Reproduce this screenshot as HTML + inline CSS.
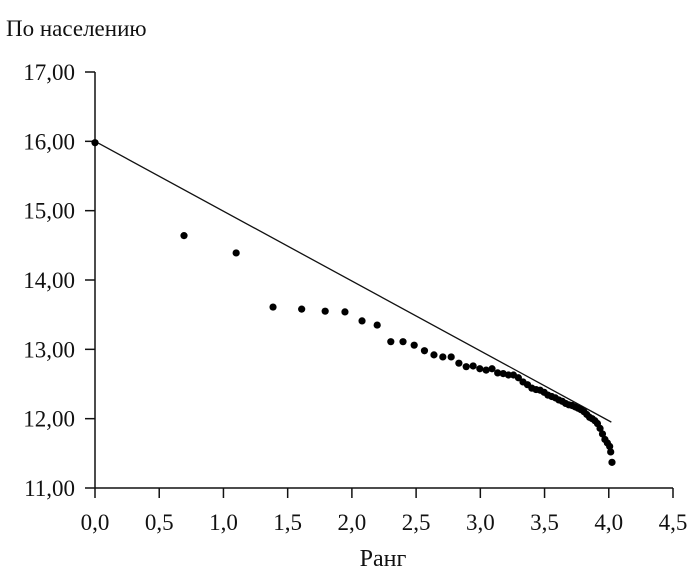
<!DOCTYPE html>
<html><head><meta charset="utf-8"><style>
html,body{margin:0;padding:0;background:#fff;width:700px;height:581px;overflow:hidden}
text{font-family:"Liberation Serif",serif;fill:#111}
</style></head><body>
<svg id="chart" width="700" height="581" viewBox="0 0 700 581">
<text x="6" y="36" font-size="23">По населению</text>
<text x="383" y="566" font-size="24" text-anchor="middle">Ранг</text>
<g id="axes"></g><g id="marks"></g>
</svg>
<script>
const xTicks=["0,0","0,5","1,0","1,5","2,0","2,5","3,0","3,5","4,0","4,5"];
const xTickVals=[0,0.5,1,1.5,2,2.5,3,3.5,4,4.5];
const yTicks=["11,00","12,00","13,00","14,00","15,00","16,00","17,00"];
const yTickVals=[11,12,13,14,15,16,17];
const pointX=[0,0.693,1.099,1.386,1.609,1.792,1.946,2.079,2.197,2.303,2.398,2.485,2.565,2.639,2.708,2.773,2.833,2.890,2.944,2.996,3.045,3.091,3.135,3.178,3.219,3.258,3.296,3.332,3.367,3.401,3.434,3.466,3.497,3.526,3.555,3.584,3.611,3.638,3.664,3.689,3.714,3.738,3.761,3.784,3.807,3.829,3.850,3.871,3.892,3.912,3.932,3.951,3.970,3.989,4.007,4.015,4.025];
const pointY=[15.98,14.64,14.39,13.61,13.58,13.55,13.54,13.41,13.35,13.11,13.11,13.06,12.98,12.92,12.89,12.89,12.80,12.75,12.76,12.72,12.70,12.72,12.66,12.65,12.63,12.63,12.59,12.53,12.49,12.44,12.42,12.41,12.38,12.34,12.32,12.30,12.27,12.25,12.22,12.20,12.19,12.17,12.15,12.13,12.10,12.06,12.02,12.00,11.97,11.93,11.86,11.78,11.70,11.65,11.60,11.52,11.37];
const lineX=[0,4.02];
const lineY=[16.0,11.95];
const X0=95,X1=673,Y0=488,Y1=72;
const sx=v=>X0+(v-0)/(4.5-0)*(X1-X0);
const sy=v=>Y0-(v-11)/(17-11)*(Y0-Y1);
const NS="http://www.w3.org/2000/svg";
const axes=document.getElementById('axes'),marks=document.getElementById('marks');
function mk(tag,at,parent){const e=document.createElementNS(NS,tag);for(const k in at)e.setAttribute(k,at[k]);parent.appendChild(e);return e;}
let a=mk('line',{x1:X0,y1:Y0,x2:X1,y2:Y0,stroke:'#111','stroke-width':1.5},axes);


a=mk('line',{x1:X0,y1:Y0,x2:X0,y2:Y1,stroke:'#111','stroke-width':1.5},axes);


xTickVals.forEach((v,i)=>{
  const t=mk('line',{x1:sx(v),y1:Y0,x2:sx(v),y2:Y0+10,stroke:'#111','stroke-width':1.5},axes);
  
  
  const l=mk('text',{x:sx(v),y:530,'font-size':23,'text-anchor':'middle'},axes);
  l.textContent=xTicks[i];
  
  
});
yTickVals.forEach((v,i)=>{
  const t=mk('line',{x1:X0-10,y1:sy(v),x2:X0,y2:sy(v),stroke:'#111','stroke-width':1.5},axes);
  
  
  const l=mk('text',{x:X0-20,y:sy(v)+8,'font-size':23,'text-anchor':'end'},axes);
  l.textContent=yTicks[i];
  
  
});
const tl=mk('line',{x1:sx(lineX[0]),y1:sy(lineY[0]),x2:sx(lineX[1]),y2:sy(lineY[1]),stroke:'#111','stroke-width':1.3},marks);


pointX.forEach((v,i)=>{
  const c=mk('circle',{cx:sx(v),cy:sy(pointY[i]),r:3.6,fill:'#000'},marks);
  
  
});
</script>
</body></html>
